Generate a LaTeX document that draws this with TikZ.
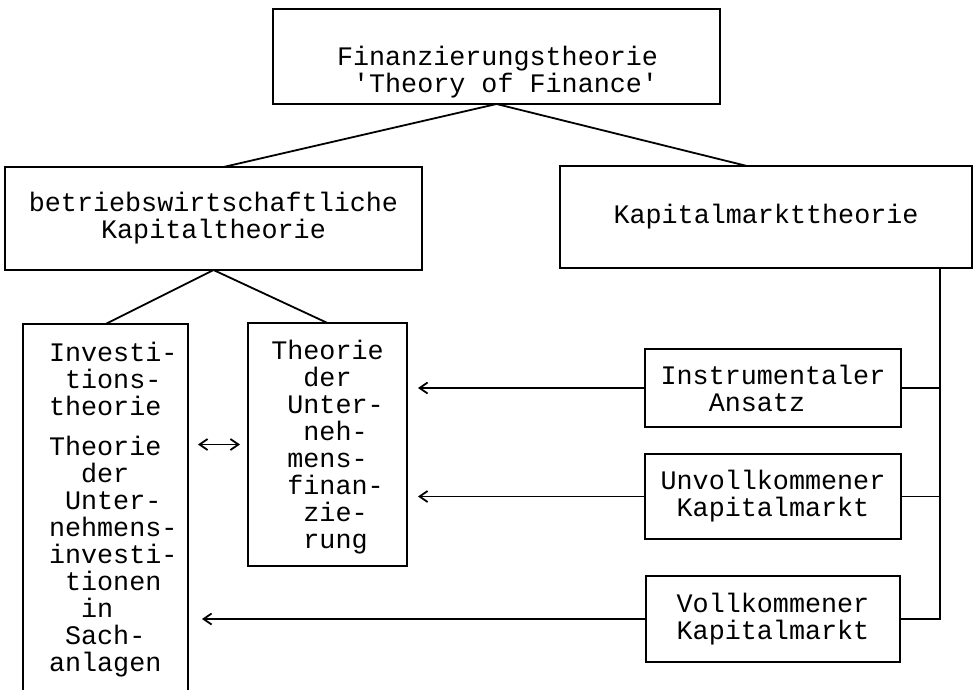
\documentclass[tikz,border=0pt]{standalone}
\usepackage{fontspec}
\setmonofont{Liberation Mono}
\usetikzlibrary{arrows.meta,calc}
\newcommand\blk{\hphantom{x}}
\begin{document}
\begin{tikzpicture}[x=1pt,y=-1pt,
  every node/.style={font=\ttfamily\fontsize{26.75}{27}\selectfont, inner sep=0pt, outer sep=0pt},
  box/.style={draw, line width=1.8pt},
  conn/.style={line width=1.8pt},
  arr/.style={-{Straight Barb[length=8pt,width=11pt]}}]
\clip (0,0) rectangle (974,689);
% boxes
\node[box, minimum width=447pt, minimum height=95pt] (top) at (496.5,56.5) {};
\node[anchor=north west, align=left] (toptext) at (337,46) {Finanzierungstheorie\\\blk'Theory of Finance'};
\node[box, minimum width=417pt, minimum height=103pt, align=center] (bwl) at (213.5,218.5) {betriebswirtschaftliche\\Kapitaltheorie};
\node[box, minimum width=412pt, minimum height=102pt] (kmt) at (766,217) {Kapitalmarkttheorie};
\node[box, minimum width=165pt, minimum height=400pt] (inv) at (105.5,524) {};
\node[anchor=north west, align=left] (invtext) at (49,342) {Investi-\\\blk tions-\\theorie\\[13pt]Theorie\\\blk\blk der\\\blk Unter-\\nehmens-\\investi-\\\blk tionen\\\blk\blk in\\\blk Sach-\\anlagen};
\node[box, minimum width=159pt, minimum height=243pt, align=left] (fin) at (327.5,444.5) {\rule{0pt}{25pt}Theorie\\\blk\blk der\\\blk Unter-\\\blk\blk neh-\\\blk mens-\\\blk finan-\\\blk\blk zie-\\\blk\blk rung};
\node[box, minimum width=256pt, minimum height=78pt, align=left] (ins) at (773,388) {Instrumentaler\\\blk\blk\blk Ansatz};
\node[box, minimum width=256pt, minimum height=85pt, align=left] (unv) at (773,496.5) {Unvollkommener\\\blk Kapitalmarkt};
\node[box, minimum width=254pt, minimum height=86pt, align=left] (vol) at (773,619) {Vollkommener\\Kapitalmarkt};
% connectors
\draw[conn] (top.south) -- ($(bwl.north)+(10,0)$);
\draw[conn] (top.south) -- ($(kmt.north)+(-19,0)$);
\draw[conn] (bwl.south) -- (inv.north);
\draw[conn] (bwl.south) -- (fin.north);
\coordinate (bus) at (940,617);
\draw[conn] (kmt.south -| bus) |- (vol.east);
\draw[conn] (ins.east) -- (ins.east -| bus);
\draw[conn] (unv.east) -- (unv.east -| bus);
\draw[conn,arr,shorten >=11pt] (ins.west) -- (ins.west -| fin.east);
\draw[conn,arr,shorten >=11pt] (unv.west) -- (unv.west -| fin.east);
\draw[conn,arr,shorten >=14pt] (vol.west) -- (vol.west -| inv.east);
\draw[conn,{Straight Barb[length=8pt,width=11pt]}-{Straight Barb[length=8pt,width=11pt]},shorten <=10pt,shorten >=8pt] (fin.west -| inv.east) -- (fin.west);
\end{tikzpicture}
\end{document}
